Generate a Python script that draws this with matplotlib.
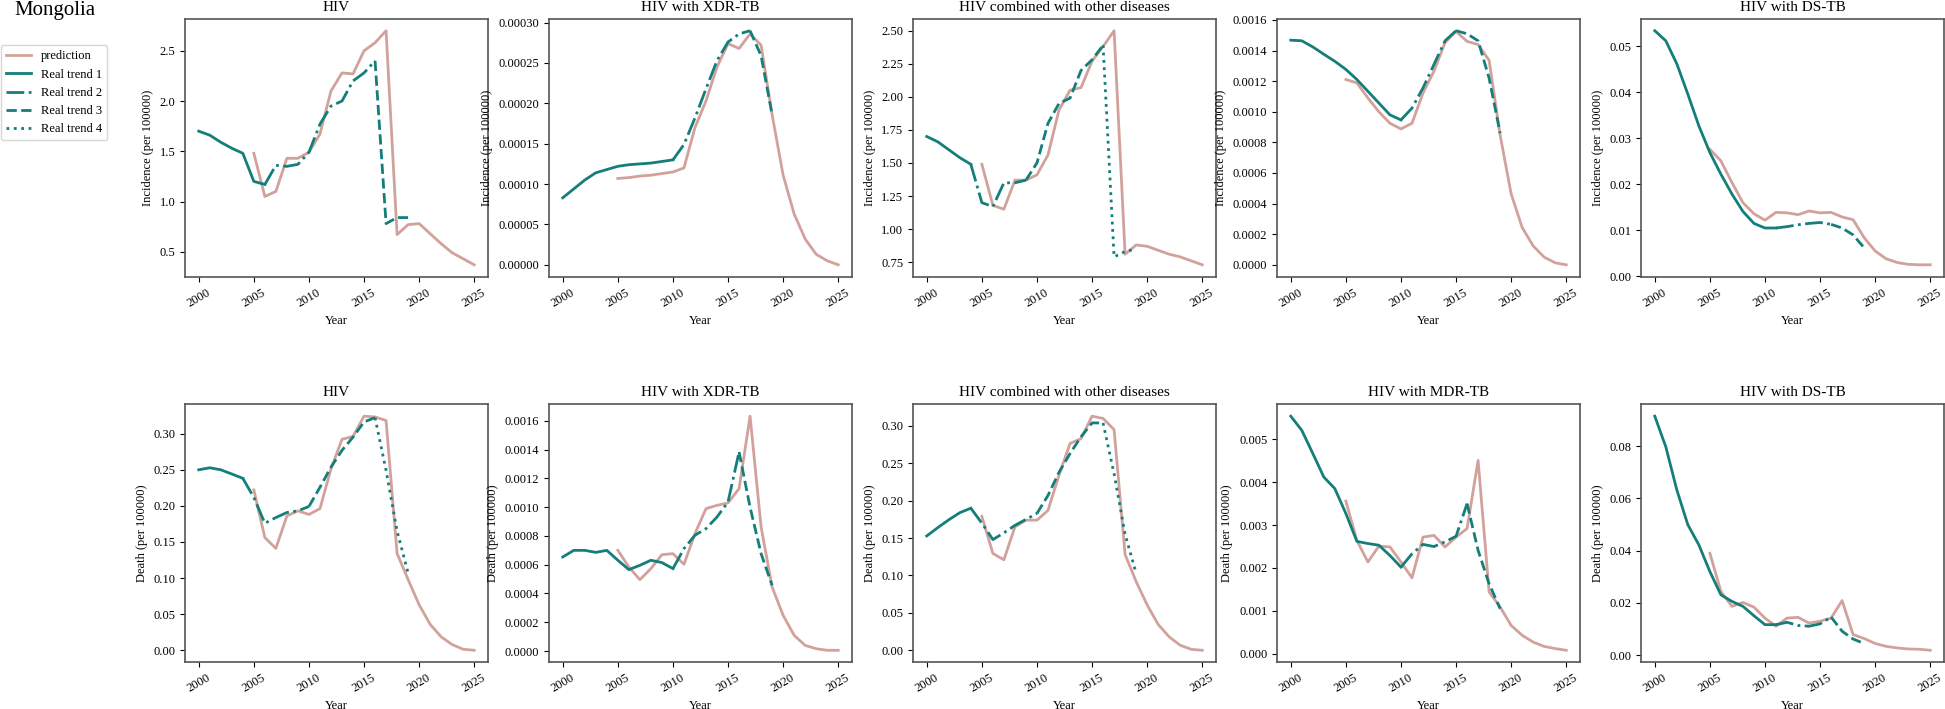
import numpy as np
import matplotlib
matplotlib.use('Agg')
import matplotlib.pyplot as plt
from matplotlib.lines import Line2D

plt.rcParams['font.family'] = ['Liberation Serif', 'DejaVu Serif']
plt.rcParams['font.size'] = 9

# years
real_years = list(range(2000, 2020))
pred_years = list(range(2005, 2026))

# ---- incidence row ----
inc_hiv_real = [1.70, 1.66, 1.59, 1.53, 1.48, 1.20, 1.17, 1.36, 1.35, 1.37,
                1.49, 1.77, 1.95, 2.00, 2.20, 2.28, 2.40, 0.78, 0.84, 0.84]
inc_hiv_pred = [1.48, 1.05, 1.10, 1.43, 1.43, 1.49, 1.67, 2.10, 2.28, 2.27, 2.50,
                2.58, 2.70, 0.67, 0.77, 0.78, 0.68, 0.58, 0.49, 0.43, 0.37]
inc_hiv_breaks = [2006, 2016]

inc_xdr_real = [0.83e-4, 0.94e-4, 1.05e-4, 1.14e-4, 1.18e-4, 1.22e-4, 1.24e-4, 1.25e-4, 1.26e-4, 1.28e-4,
                1.30e-4, 1.49e-4, 1.82e-4, 2.18e-4, 2.53e-4, 2.76e-4, 2.86e-4, 2.90e-4, 2.59e-4, 1.86e-4]
inc_xdr_pred = [1.07e-4, 1.08e-4, 1.10e-4, 1.11e-4, 1.13e-4, 1.15e-4, 1.20e-4, 1.70e-4, 2.03e-4, 2.45e-4, 2.74e-4,
                2.68e-4, 2.86e-4, 2.72e-4, 1.86e-4, 1.11e-4, 0.63e-4, 0.32e-4, 0.13e-4, 0.05e-4, 0.0]
inc_xdr_breaks = [2010, 2017]

inc_oth_real = [1.70, 1.66, 1.60, 1.54, 1.49, 1.20, 1.17, 1.35, 1.35, 1.37,
                1.50, 1.80, 1.95, 1.99, 2.20, 2.28, 2.39, 0.79, 0.83, 0.85]
inc_oth_pred = [1.49, 1.18, 1.15, 1.37, 1.37, 1.41, 1.56, 1.90, 2.05, 2.07, 2.27,
                2.38, 2.50, 0.81, 0.88, 0.87, 0.84, 0.81, 0.79, 0.76, 0.73]
inc_oth_breaks = [2004, 2009, 2016]

inc_mdr_real = [1.468e-3, 1.464e-3, 1.424e-3, 1.376e-3, 1.33e-3, 1.277e-3, 1.211e-3, 1.134e-3, 1.057e-3, 0.98e-3,
                0.947e-3, 1.024e-3, 1.156e-3, 1.31e-3, 1.464e-3, 1.53e-3, 1.51e-3, 1.464e-3, 1.22e-3, 0.86e-3]
inc_mdr_pred = [1.211e-3, 1.189e-3, 1.09e-3, 1.00e-3, 0.925e-3, 0.888e-3, 0.925e-3, 1.123e-3, 1.266e-3, 1.453e-3, 1.525e-3,
                1.46e-3, 1.44e-3, 1.336e-3, 0.848e-3, 0.464e-3, 0.244e-3, 0.123e-3, 0.05e-3, 0.013e-3, 0.0]
inc_mdr_breaks = [2010, 2015]

inc_ds_real = [0.0534, 0.0512, 0.0462, 0.0396, 0.0327, 0.0269, 0.0222, 0.0179, 0.0141, 0.0115,
               0.0105, 0.0105, 0.0108, 0.0112, 0.0115, 0.0117, 0.0113, 0.0105, 0.0090, 0.0062]
inc_ds_pred = [0.0276, 0.0251, 0.0204, 0.0160, 0.0136, 0.0122, 0.0139, 0.0138, 0.0134, 0.0142, 0.0138,
               0.0139, 0.0129, 0.0123, 0.0084, 0.0055, 0.0038, 0.0030, 0.0026, 0.0025, 0.0025]
inc_ds_breaks = [2011, 2016]

# ---- death row ----
dth_hiv_real = [0.2498, 0.2526, 0.2498, 0.244, 0.238, 0.2116, 0.1758, 0.1837, 0.1907, 0.193,
                0.199, 0.2256, 0.2535, 0.2767, 0.295, 0.316, 0.322, 0.249, 0.165, 0.107]
dth_hiv_pred = [0.222, 0.156, 0.141, 0.186, 0.193, 0.188, 0.196, 0.251, 0.292, 0.296, 0.324,
                0.323, 0.318, 0.134, 0.098, 0.063, 0.036, 0.0186, 0.0079, 0.0014, 0.0]
dth_hiv_breaks = [2004, 2010, 2016]

dth_xdr_real = [0.654e-3, 0.700e-3, 0.700e-3, 0.686e-3, 0.700e-3, 0.631e-3, 0.566e-3, 0.596e-3, 0.631e-3, 0.615e-3,
                0.573e-3, 0.712e-3, 0.805e-3, 0.851e-3, 0.932e-3, 1.037e-3, 1.384e-3, 1.00e-3, 0.677e-3, 0.457e-3]
dth_xdr_pred = [0.700e-3, 0.584e-3, 0.496e-3, 0.573e-3, 0.670e-3, 0.677e-3, 0.603e-3, 0.816e-3, 0.990e-3, 1.013e-3, 1.030e-3,
                1.129e-3, 1.633e-3, 0.863e-3, 0.445e-3, 0.248e-3, 0.109e-3, 0.039e-3, 0.016e-3, 0.005e-3, 0.005e-3]
dth_xdr_breaks = [2010, 2016]

dth_oth_real = [0.1529, 0.164, 0.1745, 0.184, 0.190, 0.170, 0.148, 0.157, 0.167, 0.175,
                0.183, 0.207, 0.238, 0.263, 0.2855, 0.304, 0.304, 0.236, 0.155, 0.103]
dth_oth_pred = [0.179, 0.1295, 0.121, 0.165, 0.174, 0.174, 0.187, 0.234, 0.2765, 0.283, 0.313,
                0.310, 0.295, 0.128, 0.092, 0.0607, 0.0346, 0.018, 0.0067, 0.0013, 0.0]
dth_oth_breaks = [2004, 2010, 2016]

dth_mdr_real = [5.54e-3, 5.21e-3, 4.67e-3, 4.12e-3, 3.85e-3, 3.27e-3, 2.62e-3, 2.57e-3, 2.53e-3, 2.29e-3,
                2.02e-3, 2.33e-3, 2.55e-3, 2.50e-3, 2.61e-3, 2.74e-3, 3.50e-3, 2.41e-3, 1.63e-3, 1.05e-3]
dth_mdr_pred = [3.56e-3, 2.64e-3, 2.14e-3, 2.51e-3, 2.49e-3, 2.14e-3, 1.77e-3, 2.72e-3, 2.76e-3, 2.49e-3, 2.72e-3,
                2.92e-3, 4.51e-3, 1.44e-3, 1.09e-3, 0.66e-3, 0.43e-3, 0.27e-3, 0.17e-3, 0.12e-3, 0.08e-3]
dth_mdr_breaks = [2010, 2016]

dth_ds_real = [0.0914, 0.0797, 0.0632, 0.0499, 0.0422, 0.0320, 0.0231, 0.0206, 0.0187, 0.0151,
               0.0117, 0.0117, 0.0126, 0.0114, 0.0111, 0.0120, 0.0146, 0.0092, 0.0062, 0.0045]
dth_ds_pred = [0.0390, 0.0244, 0.0187, 0.0202, 0.0184, 0.0142, 0.0111, 0.0142, 0.0145, 0.0123, 0.0130,
               0.0142, 0.0209, 0.0079, 0.0064, 0.0045, 0.0034, 0.0028, 0.0024, 0.0023, 0.0019]
dth_ds_breaks = [2011, 2016]

titles_top = ['HIV', 'HIV with XDR-TB', 'HIV combined with other diseases', '', 'HIV with DS-TB']
titles_bottom = ['HIV', 'HIV with XDR-TB', 'HIV combined with other diseases', 'HIV with MDR-TB', 'HIV with DS-TB']

top_panels = [(inc_hiv_real, inc_hiv_pred, inc_hiv_breaks),
              (inc_xdr_real, inc_xdr_pred, inc_xdr_breaks),
              (inc_oth_real, inc_oth_pred, inc_oth_breaks),
              (inc_mdr_real, inc_mdr_pred, inc_mdr_breaks),
              (inc_ds_real, inc_ds_pred, inc_ds_breaks)]
bottom_panels = [(dth_hiv_real, dth_hiv_pred, dth_hiv_breaks),
                 (dth_xdr_real, dth_xdr_pred, dth_xdr_breaks),
                 (dth_oth_real, dth_oth_pred, dth_oth_breaks),
                 (dth_mdr_real, dth_mdr_pred, dth_mdr_breaks),
                 (dth_ds_real, dth_ds_pred, dth_ds_breaks)]

pred_color = '#d3a19b'
real_color = '#137e7a'
styles = ['-', '-.', '--', ':']

fig, axes = plt.subplots(2, 5, figsize=(19.45, 7.09), dpi=100)
plt.subplots_adjust(left=0.0951, right=0.9995, bottom=0.0663, top=0.9732,
                    wspace=0.2013, hspace=0.497)


def draw(ax, real, pred, breaks, title, ylabel):
    ax.plot(pred_years, pred, color=pred_color, lw=2)
    yrs = np.array(real_years)
    vals = np.array(real)
    edges = [2000] + breaks + [2019]
    for k in range(len(edges) - 1):
        m = (yrs >= edges[k]) & (yrs <= edges[k + 1])
        ax.plot(yrs[m], vals[m], color=real_color, lw=2, linestyle=styles[k])
    ax.set_title(title, fontsize=11)
    ax.set_xlabel('Year')
    ax.set_ylabel(ylabel)
    ax.set_xticks([2000, 2005, 2010, 2015, 2020, 2025])
    plt.setp(ax.get_xticklabels(), rotation=30)
    for s in ax.spines.values():
        s.set_color('#555555')
        s.set_linewidth(1.2)


for i in range(5):
    r, p, b = top_panels[i]
    draw(axes[0, i], r, p, b, titles_top[i], 'Incidence (per 100000)')
    r, p, b = bottom_panels[i]
    draw(axes[1, i], r, p, b, titles_bottom[i], 'Death (per 100000)')

fig.text(0.0283, 0.998, 'Mongolia', ha='center', va='top', fontsize=15)

handles = [Line2D([], [], color=pred_color, lw=2, label='prediction')]
for k in range(4):
    handles.append(Line2D([], [], color=real_color, lw=2, linestyle=styles[k],
                          label='Real trend %d' % (k + 1)))
fig.legend(handles=handles, loc='upper left', bbox_to_anchor=(0.0005, 0.936),
           borderaxespad=0, fontsize=9)

plt.savefig('out.png')
